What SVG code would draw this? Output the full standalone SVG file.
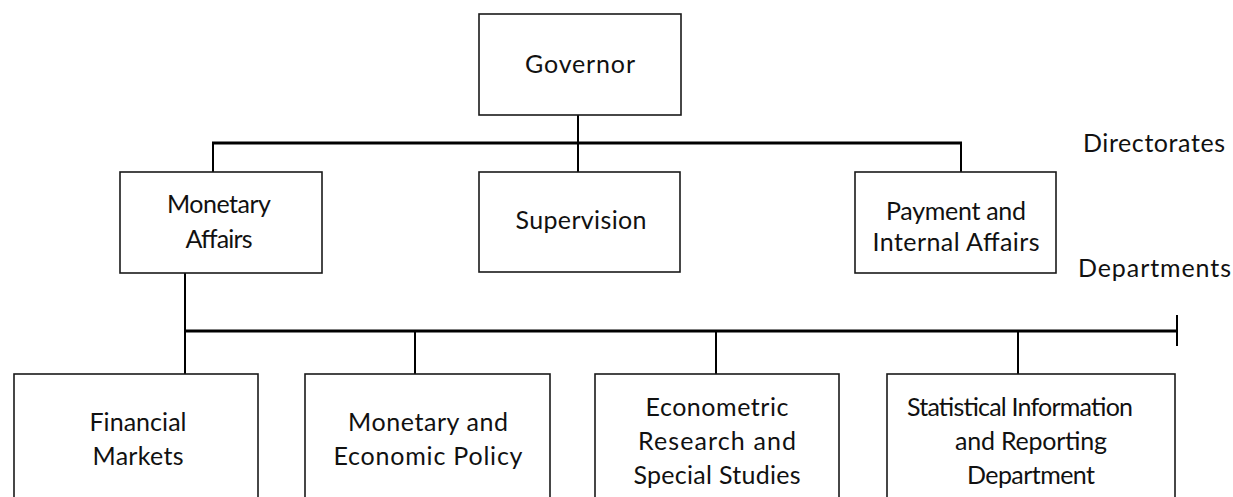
<svg xmlns="http://www.w3.org/2000/svg" width="1233" height="497" viewBox="0 0 1233 497">
<style>
.box{fill:#fff;stroke:#1a1a1a;stroke-width:1.6}
.t{font-family:Lato,"Liberation Sans",sans-serif;font-size:25px;fill:#111;text-anchor:middle}
.lbl{font-family:Lato,"Liberation Sans",sans-serif;font-size:25px;fill:#111}
.bus{stroke:#000;stroke-width:3;fill:none}
.drop{stroke:#000;stroke-width:2;fill:none}
</style>
<rect width="1233" height="497" fill="#fff"/>
<g id="connectors">
<line class="drop" x1="578" y1="115" x2="578" y2="143"/>
<line class="bus" x1="212" y1="143" x2="962" y2="143"/>
<line class="drop" x1="213" y1="143" x2="213" y2="172"/>
<line class="drop" x1="578" y1="143" x2="578" y2="172"/>
<line class="drop" x1="961" y1="143" x2="961" y2="172"/>
<line class="drop" x1="185" y1="273" x2="185" y2="331"/>
<line class="bus" x1="184" y1="331" x2="1177" y2="331"/>
<line class="drop" x1="1177" y1="315" x2="1177" y2="346"/>
<line class="drop" x1="185" y1="331" x2="185" y2="374"/>
<line class="drop" x1="415" y1="331" x2="415" y2="374"/>
<line class="drop" x1="716" y1="331" x2="716" y2="374"/>
<line class="drop" x1="1018" y1="331" x2="1018" y2="374"/>
</g>
<g id="governor">
<rect class="box" x="479" y="14" width="202" height="101"/>
<text class="t" x="580" y="73" textLength="110" lengthAdjust="spacing">Governor</text>
</g>
<g id="monetary-affairs">
<rect class="box" x="120" y="172" width="202" height="101"/>
<text class="t" x="219" y="213" textLength="104" lengthAdjust="spacing">Monetary</text>
<text class="t" x="219" y="248" textLength="67" lengthAdjust="spacing">Affairs</text>
</g>
<g id="supervision">
<rect class="box" x="479" y="172" width="201" height="100"/>
<text class="t" x="581" y="229" textLength="131" lengthAdjust="spacing">Supervision</text>
</g>
<g id="payment">
<rect class="box" x="855" y="172" width="201" height="101"/>
<text class="t" x="956" y="220" textLength="140" lengthAdjust="spacing">Payment and</text>
<text class="t" x="956" y="251" textLength="167" lengthAdjust="spacing">Internal Affairs</text>
</g>
<g id="labels">
<text class="lbl" x="1083" y="152" textLength="142" lengthAdjust="spacing">Directorates</text>
<text class="lbl" x="1078" y="277" textLength="153" lengthAdjust="spacing">Departments</text>
</g>
<g id="financial-markets">
<rect class="box" x="14" y="374" width="244" height="140"/>
<text class="t" x="138" y="431" textLength="97" lengthAdjust="spacing">Financial</text>
<text class="t" x="138" y="465" textLength="91" lengthAdjust="spacing">Markets</text>
</g>
<g id="monetary-economic-policy">
<rect class="box" x="305" y="374" width="245" height="140"/>
<text class="t" x="428" y="431" textLength="160" lengthAdjust="spacing">Monetary and</text>
<text class="t" x="428" y="465" textLength="189" lengthAdjust="spacing">Economic Policy</text>
</g>
<g id="econometric">
<rect class="box" x="595" y="374" width="244" height="140"/>
<text class="t" x="717" y="416" textLength="143" lengthAdjust="spacing">Econometric</text>
<text class="t" x="717" y="450" textLength="158" lengthAdjust="spacing">Research and</text>
<text class="t" x="717" y="484" textLength="167" lengthAdjust="spacing">Special Studies</text>
</g>
<g id="statistical">
<rect class="box" x="887" y="374" width="288" height="140"/>
<text class="t" x="1020" y="416" textLength="226" lengthAdjust="spacing">Statistical Information</text>
<text class="t" x="1031" y="450" textLength="152" lengthAdjust="spacing">and Reporting</text>
<text class="t" x="1031" y="484" textLength="128" lengthAdjust="spacing">Department</text>
</g>
</svg>
